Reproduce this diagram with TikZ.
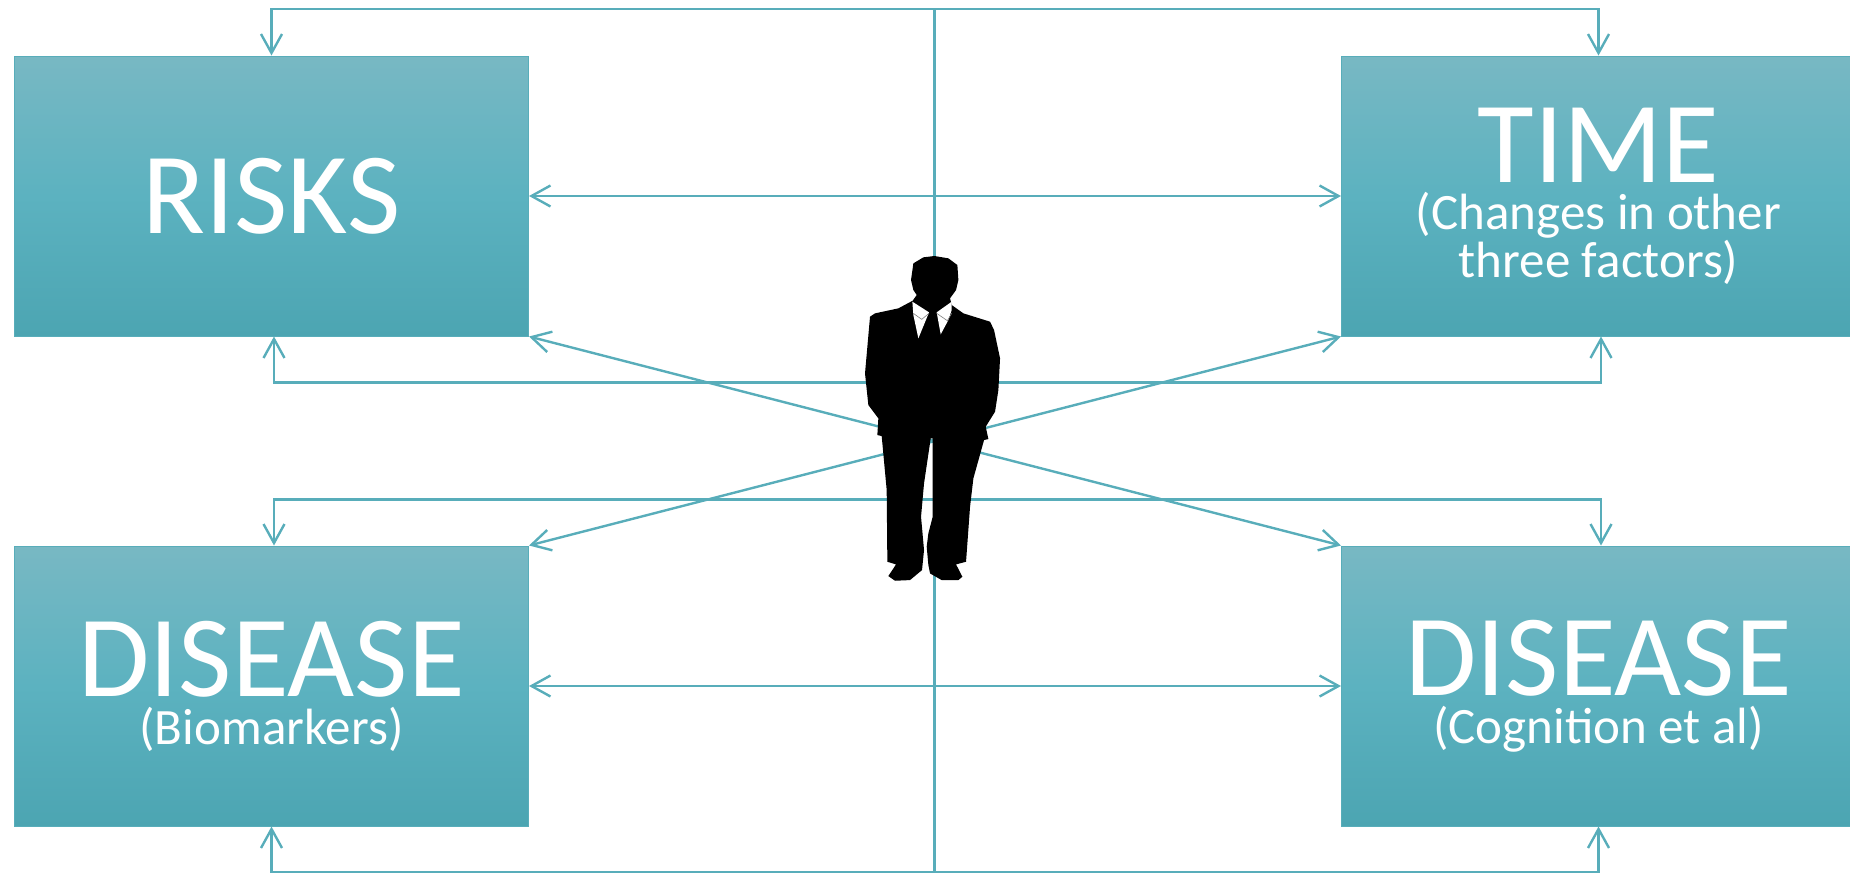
\documentclass[tikz,border=0pt]{standalone}
\usepackage{fontspec}
\setmainfont{Carlito}
\usetikzlibrary{arrows.meta, positioning, calc}
\definecolor{linkteal}{HTML}{58ADBA}
\definecolor{boxtop}{HTML}{78B8C3}
\definecolor{boxmid}{HTML}{5CB2C0}
\definecolor{boxbot}{HTML}{4CA5B2}
\newcommand{\bigtext}{\fontsize{58}{60}\selectfont}
\newcommand{\subtext}{\fontsize{25.5}{33.5}\selectfont}

\begin{document}
\begin{tikzpicture}[
  x=0.5pt, y=-0.5pt,
  node distance=104.5pt and 406pt,
  factor/.style={rectangle, draw=linkteal, line width=0.5pt, top color=boxtop, bottom color=boxbot,
                 middle color=boxmid, text=white, align=center, inner sep=0pt,
                 minimum width=257pt, minimum height=140pt},
  arr/.style={{Straight Barb[length=9.5pt, width=10.5pt]}-{Straight Barb[length=9.5pt, width=10.5pt]}, linkteal, line width=1.2pt},
  arrend/.style={-{Straight Barb[length=9.5pt, width=10.5pt]}, linkteal, line width=1.2pt},
  spine/.style={linkteal, line width=1.2pt}
]
\useasboundingbox (0,0) rectangle (1850,873);
\clip (0,0) rectangle (1850,873);

% Factors
\node[factor] (risks) at (271.5,196) {\bigtext RISKS};
\node[factor, right=of risks] (time) {\bigtext TIME\\[4pt]\subtext (Changes in other\\\subtext three factors)};
\node[factor, below=of risks] (biomarkers) {\bigtext DISEASE\\[4pt]\subtext (Biomarkers)};
\node[factor, right=of biomarkers] (cognition) {\bigtext DISEASE\\[4pt]\subtext (Cognition et al)};

\coordinate (topmid) at (934.5,9);
\coordinate (botmid) at (934.5,872);

% Outer frame and spine
\draw[spine] (topmid) -- (botmid);
\draw[arrend] (topmid) -| (risks.north);
\draw[arrend] (topmid) -| (time.north);
\draw[arrend] (botmid) -| (biomarkers.south);
\draw[arrend] (botmid) -| (cognition.south);

% Links between the factors
\draw[arr] (risks) -- (time);
\draw[arr] (biomarkers) -- (cognition);
\draw[arr] (risks.south east) -- (cognition.north west);
\draw[arr] (biomarkers.north east) -- (time.south west);
\draw[arr] ([xshift=1.25pt]risks.south) -- ++(0,46) -| ([xshift=1.25pt]time.south);
\draw[arr] ([xshift=1.25pt]biomarkers.north) -- ++(0,-46) -| ([xshift=1.25pt]cognition.north);

% Man
\begin{scope}[shift={(820,230)}, x=0.1667pt, y=-0.1667pt]
\fill[black] (343,78) -- (385,85) -- (412,105) -- (415,150) -- (408,180) -- (390,205) -- (395,225)
  -- (430,250) -- (510,275) -- (522,300) -- (540,385) -- (535,480) -- (525,545) -- (497,590)
  -- (505,627) -- (492,630) -- (460,745) -- (450,830) -- (438,995) -- (408,1003) -- (427,1040)
  -- (415,1050) -- (365,1050) -- (330,1030) -- (325,1005) -- (320,950) -- (325,910) -- (338,860)
  -- (338,625) -- (332,625) -- (312,760) -- (303,860) -- (312,960) -- (306,1020) -- (270,1050)
  -- (225,1052) -- (205,1038) -- (228,1003) -- (202,995) -- (200,780) -- (185,618) -- (172,615)
  -- (175,565) -- (145,525) -- (135,430) -- (150,260) -- (165,250) -- (235,235) -- (278,212)
  -- (290,195) -- (280,180) -- (273,150) -- (280,100) -- (310,82) -- cycle;
\fill[white] (277,215) -- (327,247) -- (295,325) -- (280,255) -- cycle;
\fill[white] (395,215) -- (350,247) -- (362,313) -- (385,270) -- (395,240) -- cycle;
\draw[gray, line width=0.3pt] (280,250) -- (305,268) -- (327,250);
\draw[gray, line width=0.3pt] (350,250) -- (382,272) -- (395,250);
\end{scope}
\end{tikzpicture}
\end{document}
